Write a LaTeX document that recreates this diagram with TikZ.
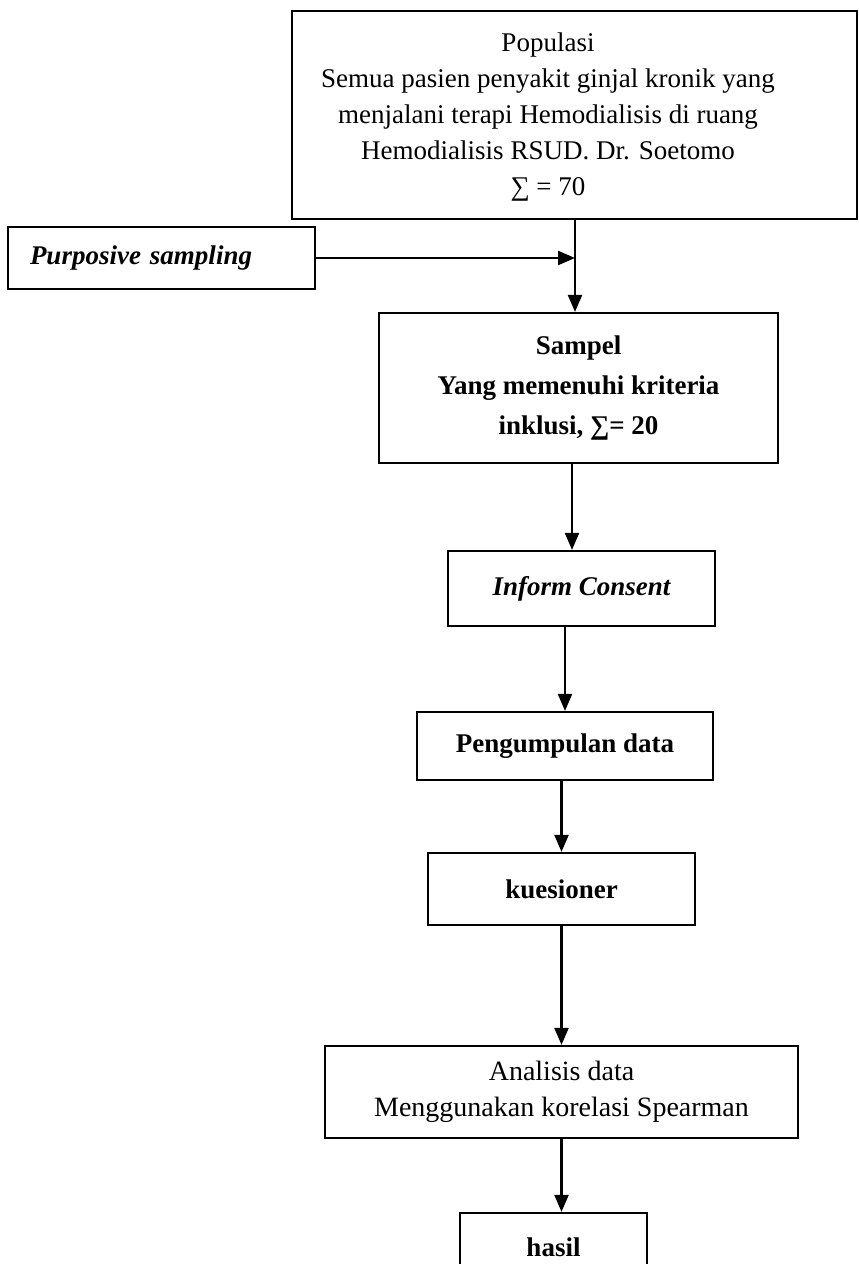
\documentclass[tikz,border=0pt]{standalone}
\usepackage{fontspec}
\setmainfont{Liberation Serif}
\usetikzlibrary{arrows.meta,calc}
\begin{document}
\begin{tikzpicture}[x=1pt,y=-1pt,
  box/.style={draw, line width=2.2pt, rectangle, inner sep=0pt, align=center,
    font=\fontsize{27}{36}\selectfont},
  txt/.style={inner sep=0pt, align=center, font=\fontsize{27}{36}\selectfont},
  arr/.style={line width=2.2pt, -{Triangle[length=17pt,width=14pt]}}]
\useasboundingbox (0,0) rectangle (859,1264);
\node[box, minimum width=565, minimum height=208] (pop) at (574.5,115) {};
\node[txt] (poptext) at (548,117)
  {Populasi\\Semua pasien penyakit ginjal kronik yang\\menjalani terapi Hemodialisis di ruang\\Hemodialisis RSUD. Dr. Soetomo\\∑ = 70};
\node[box, minimum width=307, minimum height=62, text width=263, align=left,
  font=\fontsize{27}{36}\selectfont\bfseries\itshape] (pur) at (161.5,258) {Purposive sampling};
\node[box, minimum width=399, minimum height=150, font=\fontsize{27}{40}\selectfont\bfseries] (sam) at (578.5,388)
  {Sampel\\Yang memenuhi kriteria\\inklusi, ∑= 20};
\node[box, minimum width=267, minimum height=75, font=\fontsize{27}{36}\selectfont\bfseries\itshape] (inf) at (581.5,588.5) {Inform Consent};
\node[box, minimum width=296, minimum height=68, font=\fontsize{27}{36}\selectfont\bfseries] (pen) at (565,746) {Pengumpulan data};
\node[box, minimum width=267, minimum height=72, font=\fontsize{27}{36}\selectfont\bfseries] (kue) at (561.5,889) {kuesioner};
\node[box, minimum width=473, minimum height=92, font=\fontsize{28}{36}\selectfont] (ana) at (561.5,1092) {Analisis data\\Menggunakan korelasi Spearman};
\node[box, minimum width=187, minimum height=68, font=\fontsize{27}{36}\selectfont\bfseries] (has) at (553.5,1247) {hasil};
\coordinate (j) at (575,258);
\draw[arr] (pur.east) -- (j);
\draw[arr] (pop.south -| j) -- (sam.north -| j);
\draw[arr] ($(sam.south)+(-6.5,0)$) -- ($(inf.north)+(-9.5,0)$);
\draw[arr] (inf.south -| pen.north) -- (pen.north);
\draw[arr] (pen.south -| kue.north) -- (kue.north);
\draw[arr] (kue.south) -- (ana.north -| kue.south);
\draw[arr] (ana.south) -- (has.north -| ana.south);
\end{tikzpicture}
\end{document}
